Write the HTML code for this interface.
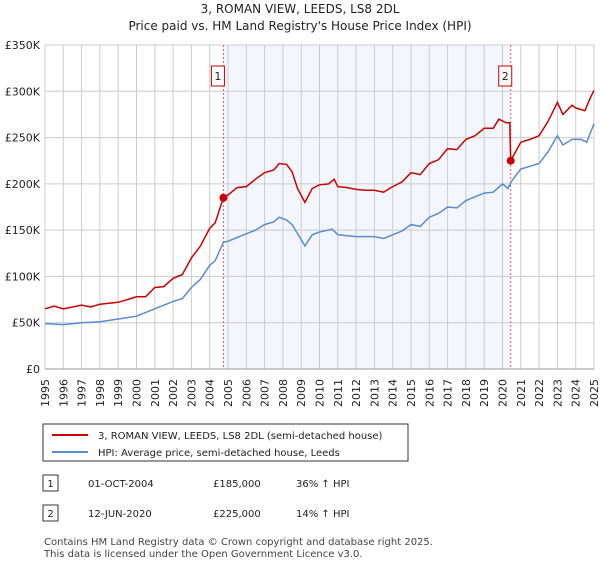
<!DOCTYPE html>
<html><head><meta charset="utf-8"><style>
body{margin:0;background:#fff;font-family:"Liberation Sans","DejaVu Sans",sans-serif;}
svg text{font-family:"DejaVu Sans","Liberation Sans",sans-serif;}
</style></head><body>
<svg width="600" height="560" viewBox="0 0 600 560">
<text x="300" y="13" text-anchor="middle" font-size="12" fill="#222">3, ROMAN VIEW, LEEDS, LS8 2DL</text>
<text x="300" y="30" text-anchor="middle" font-size="12" fill="#222">Price paid vs. HM Land Registry's House Price Index (HPI)</text>
<g id="plot"></g>
<g>
<rect x="43" y="424" width="365" height="37" fill="#fff" stroke="#333"/>
<line x1="52" y1="435" x2="88" y2="435" stroke="#cc0000" stroke-width="2"/>
<text x="98" y="439" font-size="10" fill="#222">3, ROMAN VIEW, LEEDS, LS8 2DL (semi-detached house)</text>
<line x1="52" y1="452" x2="88" y2="452" stroke="#5b8bd0" stroke-width="2"/>
<text x="98" y="456" font-size="10" fill="#222">HPI: Average price, semi-detached house, Leeds</text>
</g>
<g font-size="10" fill="#222">
<rect x="43" y="475" width="15" height="16" fill="#fff" stroke="#333"/><text x="50.5" y="487" text-anchor="middle">1</text>
<text x="88" y="487">01-OCT-2004</text><text x="213" y="487">£185,000</text><text x="296" y="487">36% ↑ HPI</text>
<rect x="43" y="505" width="15" height="16" fill="#fff" stroke="#333"/><text x="50.5" y="517" text-anchor="middle">2</text>
<text x="88" y="517">12-JUN-2020</text><text x="213" y="517">£225,000</text><text x="296" y="517">14% ↑ HPI</text>
</g>
<text x="44" y="545" font-size="10" fill="#444">Contains HM Land Registry data © Crown copyright and database right 2025.</text>
<text x="44" y="557" font-size="10" fill="#444">This data is licensed under the Open Government Licence v3.0.</text>
</svg>
<script>
const yTicks=[0,50,100,150,200,250,300,350];
const years=[1995,1996,1997,1998,1999,2000,2001,2002,2003,2004,2005,2006,2007,2008,2009,2010,2011,2012,2013,2014,2015,2016,2017,2018,2019,2020,2021,2022,2023,2024,2025];
const redT=[1995,1995.5,1996,1997,1997.5,1998,1999,2000,2000.5,2001,2001.5,2002,2002.5,2003,2003.5,2004,2004.3,2004.75,2005,2005.5,2006,2006.5,2007,2007.5,2007.8,2008.2,2008.5,2008.8,2009.2,2009.6,2010,2010.5,2010.8,2011,2011.5,2012,2012.5,2013,2013.5,2014,2014.5,2015,2015.5,2016,2016.5,2017,2017.5,2018,2018.5,2019,2019.5,2019.8,2020.2,2020.4,2020.45,2021,2021.5,2022,2022.5,2023,2023.3,2023.8,2024,2024.5,2024.8,2025];
const redV=[65,68,65,69,67,70,72,78,78,88,89,98,102,120,133,152,158,185,188,196,197,205,212,215,222,221,213,195,180,195,199,200,205,197,196,194,193,193,191,197,202,212,210,222,226,238,237,248,252,260,260,270,266,266,225,245,248,252,268,288,275,285,282,279,293,301];
const blueT=[1995,1996,1997,1998,1999,2000,2001,2002,2002.5,2003,2003.5,2004,2004.3,2004.75,2005,2005.5,2006,2006.5,2007,2007.5,2007.8,2008.2,2008.5,2009.2,2009.6,2010,2010.7,2011,2012,2013,2013.5,2014,2014.5,2015,2015.5,2016,2016.5,2017,2017.5,2018,2018.5,2019,2019.5,2020,2020.3,2020.5,2021,2021.5,2022,2022.5,2023,2023.3,2023.8,2024.3,2024.6,2025];
const blueV=[49,48,50,51,54,57,65,73,76,88,97,112,117,137,138,142,146,150,156,159,164,161,156,133,145,148,151,145,143,143,141,145,149,156,154,164,168,175,174,182,186,190,191,200,195,203,216,219,222,235,252,242,248,248,245,265];
const sales=[{t:2004.75,v:185,label:"1"},{t:2020.45,v:225,label:"2"}];
const X0=45,X1=594,Y0=369,Y1=45;
const xs=t=>X0+(t-1995)/30*(X1-X0);
const ys=v=>Y0-v/350*(Y0-Y1);
const NS="http://www.w3.org/2000/svg";
const g=document.getElementById('plot');
function mk(tag,attrs){const e=document.createElementNS(NS,tag);for(const k in attrs)e.setAttribute(k,attrs[k]);g.appendChild(e);return e;}
let sh=mk('rect',{x:xs(sales[0].t),y:Y1,width:xs(sales[1].t)-xs(sales[0].t),height:Y0-Y1,fill:'#f3f6fd'});


years.forEach(y=>{
 let l=mk('line',{x1:xs(y),x2:xs(y),y1:Y1,y2:Y0,stroke:'#ccc','stroke-width':1});
 
 
 let t=mk('text',{x:xs(y),y:375,'font-size':11,fill:'#222','text-anchor':'end',transform:`rotate(-90 ${xs(y)+4} 375)`});
 t.textContent=y;
 
 
});
yTicks.forEach(v=>{
 let l=mk('line',{x1:X0,x2:X1,y1:ys(v),y2:ys(v),stroke:'#ccc','stroke-width':1});
 
 
 let t=mk('text',{x:40,y:ys(v)+4,'font-size':11,fill:'#222','text-anchor':'end'});
 t.textContent=v===0?'£0':'£'+v+'K';
 
 
});
let ax=mk('line',{x1:X0,x2:X1,y1:Y0,y2:Y0,stroke:'#999'});


sales.forEach(s=>{
 let d=mk('line',{x1:xs(s.t),x2:xs(s.t),y1:Y1,y2:Y0,stroke:'#e06060','stroke-dasharray':'2,2'});
 
 
});
function line(T,V,c,name){
 let p=mk('path',{d:T.map((t,i)=>(i?'L':'M')+xs(t).toFixed(1)+','+ys(V[i]).toFixed(1)).join(''),fill:'none',stroke:c,'stroke-width':1.5});
 
 
}
line(blueT,blueV,'#5b8bd0','hpi-line');
line(redT,redV,'#cc0000','price-line');
sales.forEach(s=>{
 let c=mk('circle',{cx:xs(s.t),cy:ys(s.v),r:4,fill:'#cc0000'});
 
 
 let bx=xs(s.t)-11;
 let r=mk('rect',{x:bx-1,y:66,width:13,height:20,fill:'#fff',stroke:'#cc0000'});
 
 
 let t=mk('text',{x:bx+5.5,y:80,'font-size':11,fill:'#222','text-anchor':'middle'});
 t.textContent=s.label;
 
 
});
</script>
</body></html>
